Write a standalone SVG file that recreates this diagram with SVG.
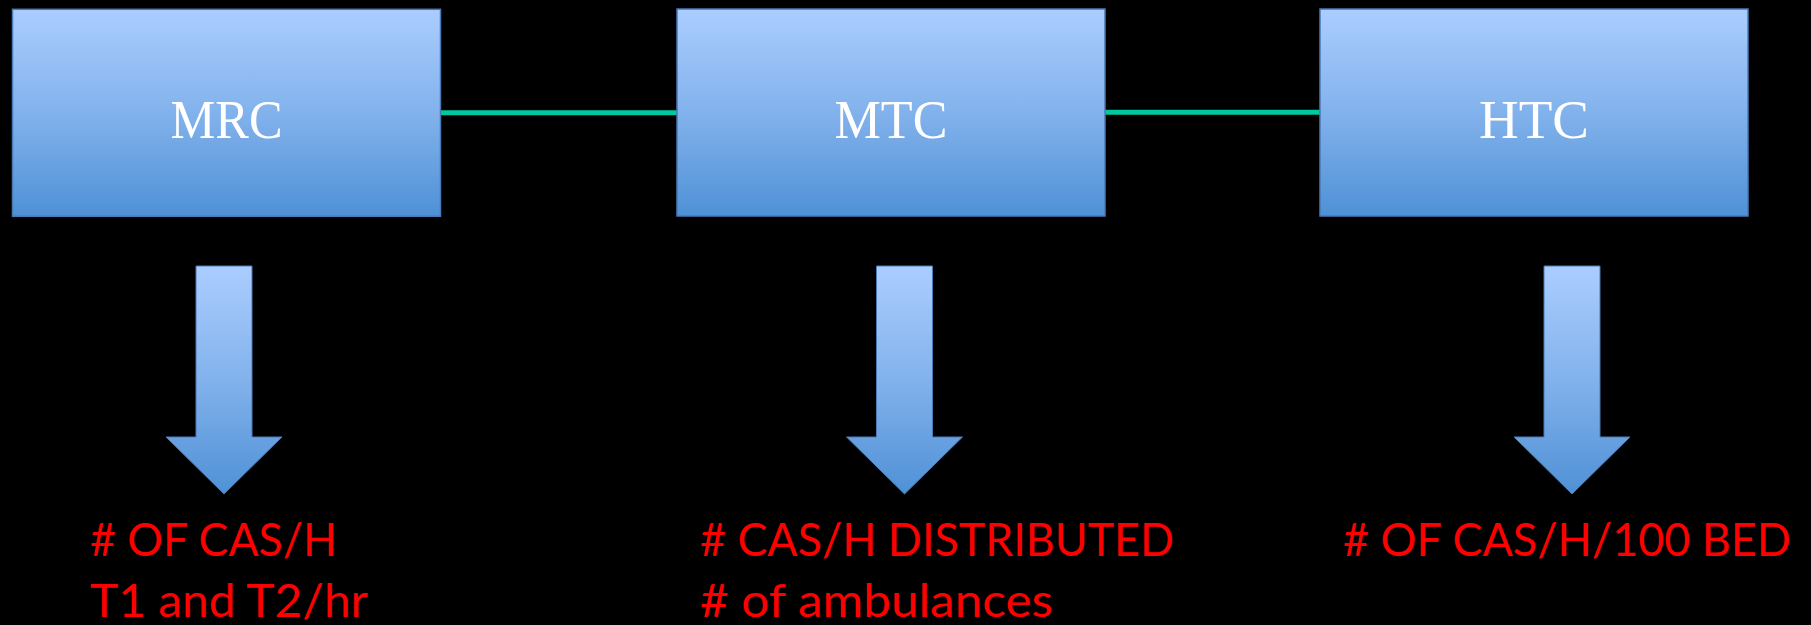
<svg xmlns="http://www.w3.org/2000/svg" width="1811" height="625" viewBox="0 0 1811 625">
<defs>
<linearGradient id="boxg" x1="0" y1="0" x2="0" y2="1">
<stop offset="0" stop-color="#ABCDFF"/>
<stop offset="0.5" stop-color="#82B2EC"/>
<stop offset="1" stop-color="#4F91D6"/>
</linearGradient>
<linearGradient id="arrg" x1="0" y1="0" x2="0" y2="1">
<stop offset="0" stop-color="#ABCDFF"/>
<stop offset="0.5" stop-color="#82B2EC"/>
<stop offset="1" stop-color="#4F91D6"/>
</linearGradient>
<style>
.box{fill:url(#boxg);stroke:#4A7AB5;stroke-width:1.5}
.arrow{fill:url(#arrg);stroke:#4A7AB5;stroke-width:1}
.lbl{font-family:"Liberation Serif","Times New Roman",serif;font-size:55px;fill:#FFFFFF;text-anchor:middle}
.note{font-family:Lato,"Open Sans",sans-serif;font-size:46px;fill:#FF0000}
.conn{stroke:#00C8A0;stroke-width:5;fill:none}
</style>
</defs>
<rect width="1811" height="625" fill="#000000"/>
<g id="connectors">
<line class="conn" x1="440" y1="112.7" x2="677" y2="112.7"/>
<line class="conn" x1="1105" y1="112.3" x2="1320" y2="112.3"/>
</g>
<g id="mrc">
<rect class="box" x="12.5" y="9.3" width="428" height="207"/>
<text class="lbl" x="226.5" y="138" textLength="112" lengthAdjust="spacingAndGlyphs">MRC</text>
</g>
<g id="mtc">
<rect class="box" x="677" y="9" width="428" height="207"/>
<text class="lbl" x="891" y="138" textLength="113" lengthAdjust="spacingAndGlyphs">MTC</text>
</g>
<g id="htc">
<rect class="box" x="1320" y="9" width="428" height="207"/>
<text class="lbl" x="1534" y="138" textLength="110" lengthAdjust="spacingAndGlyphs">HTC</text>
</g>
<g id="arrow-mrc">
<path class="arrow" d="M196,266 H252 V437 H282 L224,494 L166,437 H196 Z"/>
</g>
<g id="arrow-mtc">
<path class="arrow" d="M876.5,266 H932.5 V437 H962.5 L904.5,494 L846.5,437 H876.5 Z"/>
</g>
<g id="arrow-htc">
<path class="arrow" d="M1544,266 H1600 V437 H1630 L1572,494 L1514,437 H1544 Z"/>
</g>
<g id="note-mrc">
<text class="note" x="90" y="556">
<tspan x="90" y="556" textLength="247" lengthAdjust="spacingAndGlyphs"># OF CAS/H</tspan>
<tspan x="90" y="617" textLength="278" lengthAdjust="spacingAndGlyphs">T1 and T2/hr</tspan>
</text>
</g>
<g id="note-mtc">
<text class="note" x="700" y="556">
<tspan x="700" y="556" textLength="474" lengthAdjust="spacingAndGlyphs"># CAS/H DISTRIBUTED</tspan>
<tspan x="700" y="617" textLength="353" lengthAdjust="spacingAndGlyphs"># of ambulances</tspan>
</text>
</g>
<g id="note-htc">
<text class="note" x="1343" y="556" textLength="448" lengthAdjust="spacingAndGlyphs"># OF CAS/H/100 BED</text>
</g>
</svg>
